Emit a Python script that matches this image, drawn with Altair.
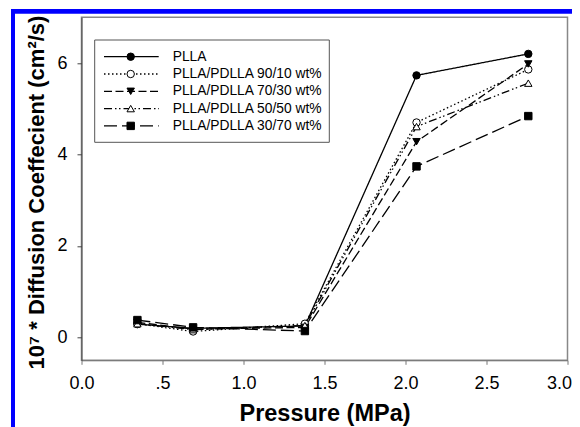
import altair as alt
import pandas as pd

# ---- data ----
pressure = [0.345, 0.689, 1.379, 2.068, 2.758]
series = ["PLLA", "PLLA/PDLLA 90/10 wt%", "PLLA/PDLLA 70/30 wt%",
          "PLLA/PDLLA 50/50 wt%", "PLLA/PDLLA 30/70 wt%"]
plla = [0.29, 0.20, 0.25, 5.73, 6.20]
b90_10 = [0.30, 0.13, 0.30, 4.70, 5.86]
b70_30 = [0.33, 0.18, 0.22, 4.28, 5.98]
b50_50 = [0.30, 0.17, 0.26, 4.61, 5.56]
b30_70 = [0.38, 0.22, 0.14, 3.74, 4.84]
x_ticks = [0.0, 0.5, 1.0, 1.5, 2.0, 2.5, 3.0]
y_ticks = [0, 2, 4, 6]

# ---- styles ----
dashes = [[1, 0], [1.5, 2.5], [8, 3.5], [8, 3, 1.5, 2.5, 1.5, 3], [13, 5]]
shapes = ["circle", "circle", "triangle-down", "triangle-up", "square"]
fills = ["black", "white", "black", "white", "black"]
FONT = "Liberation Sans"

values = [plla, b90_10, b70_30, b50_50, b30_70]
rows = []
for s, vals in zip(series, values):
    for p, v in zip(pressure, vals):
        rows.append({"series": s, "pressure": p, "value": v})
df = pd.DataFrame(rows)
leg = pd.DataFrame({"series": series, "i": list(range(len(series)))})
one = pd.DataFrame({"a": [0]})

dash_scale = alt.Scale(domain=series, range=dashes)
shape_scale = alt.Scale(domain=series, range=shapes)
fill_scale = alt.Scale(domain=series, range=fills)

x_enc = alt.X("pressure:Q",
              scale=alt.Scale(domain=[0, 3], nice=False, zero=False),
              axis=alt.Axis(values=x_ticks, title="Pressure (MPa)",
                            labelExpr="datum.value == 0.5 ? '.5' : format(datum.value, '.1f')",
                            grid=False, tickSize=4, labelPadding=10.5,
                            labelFlush=False, labelOverlap=False,
                            labelOffset={"condition": {"test": "datum.value == 3", "value": -8.5},
                                         "value": 0},
                            domainColor="#777", tickColor="#777",
                            labelFontSize=18, labelFont=FONT, labelColor="black",
                            titleFont=FONT, titleFontSize=23.5, titleFontWeight="bold",
                            titleColor="black", titleBaseline="alphabetic",
                            titleY=60, titleX=243))
y_enc = alt.Y("value:Q",
              scale=alt.Scale(domain=[-0.5, 7], nice=False, zero=False),
              axis=alt.Axis(values=y_ticks, title="10⁷ * Diffusion Coeffecient (cm²/s)",
                            grid=False, tickSize=4.5, labelPadding=10,
                            labelFlush=False,
                            domainColor="#444", tickColor="#444",
                            labelFontSize=18, labelFont=FONT, labelColor="black",
                            titleFont=FONT, titleFontSize=22, titleFontWeight="bold",
                            titleColor="black", titleBaseline="alphabetic",
                            titleAngle=270, titleX=-38.2, titleY=174.7))

lines = alt.Chart(df).mark_line(color="black", strokeWidth=1.3).encode(
    x=x_enc, y=y_enc,
    strokeDash=alt.StrokeDash("series:N", scale=dash_scale, legend=None),
    detail="series:N",
)
points = alt.Chart(df).mark_point(filled=True, stroke="black", strokeWidth=1,
                                  size=55, opacity=1).encode(
    x="pressure:Q", y="value:Q",
    shape=alt.Shape("series:N", scale=shape_scale, legend=None),
    fill=alt.Fill("series:N", scale=fill_scale, legend=None),
)

# ---- legend drawn inside the plot ----
leg_box = alt.Chart(one).mark_rect(fill="white", stroke="#555", strokeWidth=1).encode(
    x=alt.value(13.2), x2=alt.value(247.8), y=alt.value(22.7), y2=alt.value(125))
leg_base = alt.Chart(leg).transform_calculate(ly="39.4 + datum.i * 17.3")
leg_lines = leg_base.mark_rule(color="black", strokeWidth=1.3).encode(
    x=alt.value(22.5), x2=alt.value(77.2),
    y=alt.Y("ly:Q", scale=None),
    strokeDash=alt.StrokeDash("series:N", scale=dash_scale, legend=None))
leg_pts = leg_base.mark_point(filled=True, stroke="black", strokeWidth=1,
                              size=55, opacity=1).encode(
    x=alt.value(49.2), y=alt.Y("ly:Q", scale=None),
    shape=alt.Shape("series:N", scale=shape_scale, legend=None),
    fill=alt.Fill("series:N", scale=fill_scale, legend=None))
leg_text = leg_base.mark_text(align="left", baseline="middle", fontSize=13.8,
                              font=FONT, color="black").encode(
    x=alt.value(91.2), y=alt.Y("ly:Q", scale=None), text="series:N")

# ---- blue frame of the figure ----
blue_left = alt.Chart(one).mark_rect(color="#0000ff").encode(
    x=alt.value(-70.5), x2=alt.value(-66.5), y=alt.value(-8.3), y2=alt.value(410))
blue_top = alt.Chart(one).mark_rect(color="#0000ff").encode(
    x=alt.value(-70.5), x2=alt.value(492), y=alt.value(-8.3), y2=alt.value(-3.5))

chart = alt.layer(lines, points, leg_box, leg_lines, leg_pts, leg_text,
                  blue_left, blue_top).properties(
    width=486, height=343,
    padding={"left": 73.5, "top": 9.3, "right": 4.5, "bottom": 66.7},
    autosize="none",
    background="white",
).configure_view(stroke="#888", strokeWidth=1.5)

chart.save("out.html", embed_options={"renderer": "svg", "actions": False})
